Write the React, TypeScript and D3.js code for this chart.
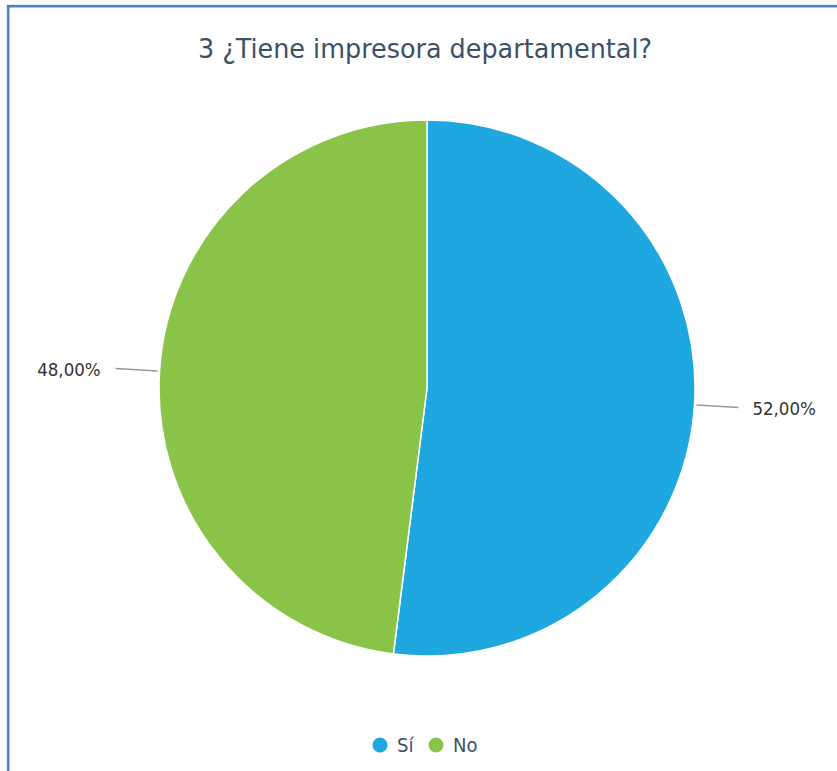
import React from "react";
import * as d3 from "d3";

const categories = ["Sí", "No"];
const values = [52, 48];
const labels = ["52,00%", "48,00%"];
const colors = ["#1FA8E0", "#89C448"];
const title = "3 ¿Tiene impresora departamental?";

const W = 837;
const H = 771;
const cx = 427;
const cy = 388;
const R = 268;

export default function App() {
  const pie = d3.pie<number>().sort(null).value((d) => d);
  const arcs = pie(values);
  const arc = d3.arc<d3.PieArcDatum<number>>().innerRadius(0).outerRadius(R);
  const font = "'DejaVu Sans Condensed', 'DejaVu Sans', sans-serif";

  return (
    <div style={{ position: "fixed", left: 0, top: 0, width: W, height: H, background: "#fff" }}>
      <svg width={W} height={H} style={{ display: "block" }}>
        <rect x={0} y={0} width={W} height={H} fill="#fff" />
        <line x1={7} x2={W} y1={4.5} y2={4.5} stroke="#e4e8ee" strokeWidth={1} />
        <line x1={6.5} x2={6.5} y1={5} y2={H} stroke="#dfe6ef" strokeWidth={1} />
        <line x1={7} x2={W} y1={6.2} y2={6.2} stroke="#4F81C4" strokeWidth={2.4} />
        <line x1={8.3} x2={8.3} y1={5} y2={H} stroke="#4F81C4" strokeWidth={2.4} />
        <text
          x={198}
          y={58}
          textAnchor="start"
          textLength={454}
          lengthAdjust="spacingAndGlyphs"
          fontFamily={font}
          fontSize={26}
          fill="#3D5166"
        >
          {title}
        </text>
        <g transform={`translate(${cx},${cy})`}>
          {arcs.map((a, i) => (
            <path key={categories[i]} d={arc(a) || ""} fill={colors[i]} stroke="#fff" strokeWidth={1.5} strokeLinejoin="round" />
          ))}
          {arcs.map((a, i) => {
            const mid = (a.startAngle + a.endAngle) / 2;
            const sx = Math.sin(mid);
            const sy = -Math.cos(mid);
            const r1 = R + 2;
            const r2 = R + 44;
            const right = sx > 0;
            const tx = r2 * sx + (right ? 14 : -15);
            const ty = r2 * sy + 7.5;
            return (
              <g key={"l" + i}>
                <line x1={r1 * sx} y1={r1 * sy} x2={r2 * sx} y2={r2 * sy} stroke="#999" strokeWidth={1.5} />
                <text x={tx} y={ty} textAnchor={right ? "start" : "end"} fontFamily={font} fontSize={18.5} fill="#333">
                  {labels[i]}
                </text>
              </g>
            );
          })}
        </g>
        <g>
          {categories.map((c, i) => {
            const lx = i === 0 ? 380 : 436;
            return (
              <g key={"lg" + c}>
                <circle cx={lx} cy={745} r={7.5} fill={colors[i]} />
                <text x={lx + 17} y={752} fontFamily={font} fontSize={20} fill="#3D5166">
                  {c}
                </text>
              </g>
            );
          })}
        </g>
      </svg>
    </div>
  );
}
